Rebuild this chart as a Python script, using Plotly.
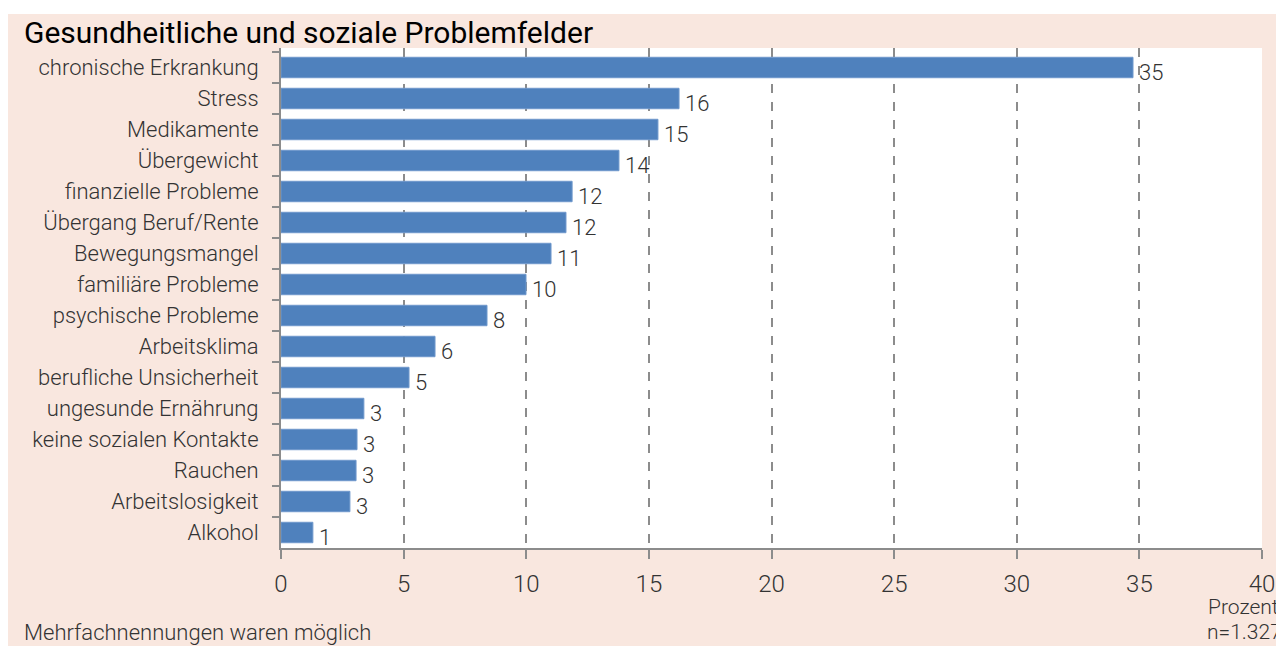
import plotly.graph_objects as go

categories = ["chronische Erkrankung", "Stress", "Medikamente", "Übergewicht",
              "finanzielle Probleme", "Übergang Beruf/Rente", "Bewegungsmangel",
              "familiäre Probleme", "psychische Probleme", "Arbeitsklima",
              "berufliche Unsicherheit", "ungesunde Ernährung",
              "keine sozialen Kontakte", "Rauchen", "Arbeitslosigkeit", "Alkohol"]
values = [34.74, 16.23, 15.37, 13.78, 11.87, 11.62, 11.01, 9.99, 8.40, 6.28,
          5.22, 3.38, 3.10, 3.06, 2.81, 1.30]
value_labels = ["35", "16", "15", "14", "12", "12", "11", "10", "8", "6", "5",
                "3", "3", "3", "3", "1"]
x_ticks = [0, 5, 10, 15, 20, 25, 30, 35, 40]

FONT = "Roboto, sans-serif"
PINK = "#f9e7df"
BLUE = "#4f81bd"
GRAY = "#8c8c8c"
TXT = "#333333"

OFF = 8  # page body margin
W, H = 1284, 646
L, R, T, B = 281 - OFF, 30, 48 - OFF, 106
PW, PH = W - L - R, H - T - B

def px(x):  # screen px -> paper
    return (x - OFF - L) / PW

def py(y):
    return (H - B - (y - OFF)) / PH

fig = go.Figure()
fig.add_trace(go.Bar(
    x=values, y=categories, orientation="h",
    marker=dict(color=BLUE, line=dict(color="#6f98cc", width=1)),
    hoverinfo="skip",
))

annotations = []
for c, v, t in zip(categories, values, value_labels):
    annotations.append(dict(x=v, y=c, xref="x", yref="y", text=t,
                            showarrow=False, xanchor="left", yanchor="middle",
                            xshift=4, yshift=-5,
                            font=dict(family=FONT, size=22, color=TXT, weight=300)))

annotations += [
    dict(x=px(22), y=py(33), xref="paper", yref="paper",
         text="Gesundheitliche und soziale Problemfelder", showarrow=False,
         xanchor="left", yanchor="middle",
         font=dict(family=FONT, size=30, color="#000000")),
    dict(x=px(1281), y=py(607), xref="paper", yref="paper", text="Prozent",
         showarrow=False, xanchor="right", yanchor="middle",
         font=dict(family=FONT, size=21, color=TXT, weight=300)),
    dict(x=px(1284), y=py(632), xref="paper", yref="paper", text="n=1.327",
         showarrow=False, xanchor="right", yanchor="middle",
         font=dict(family=FONT, size=21, color=TXT, weight=300)),
    dict(x=px(22), y=py(632), xref="paper", yref="paper",
         text="Mehrfachnennungen waren möglich", showarrow=False,
         xanchor="left", yanchor="middle",
         font=dict(family=FONT, size=22, color=TXT, weight=300)),
]

shapes = [
    dict(type="rect", xref="paper", yref="paper", x0=px(0), x1=px(W + 20),
         y0=py(14), y1=py(0), fillcolor="white", line=dict(width=0), layer="below"),
]

fig.update_layout(
    width=W, height=H,
    margin=dict(l=L, r=R, t=T, b=B, pad=0),
    paper_bgcolor=PINK, plot_bgcolor="white",
    showlegend=False, bargap=0.34,
    annotations=annotations, shapes=shapes,
    font=dict(family=FONT, color=TXT),
    xaxis=dict(range=[0, 40], tickvals=x_ticks, ticktext=[str(v) for v in x_ticks],
               showgrid=True, gridcolor=GRAY, griddash="dash", gridwidth=1.5,
               zeroline=False, showline=True, linecolor=GRAY, linewidth=2,
               ticks="outside", ticklen=9, tickcolor=GRAY, tickwidth=1.5,
               ticklabelstandoff=4,
               tickfont=dict(family=FONT, size=24, color=TXT, weight=300),
               fixedrange=True),
    yaxis=dict(type="category", autorange="reversed", tickson="boundaries",
               showgrid=False, showline=True, linecolor=GRAY, linewidth=2,
               ticks="outside", ticklen=7, tickcolor=GRAY, tickwidth=1.5,
               ticklabelstandoff=16,
               tickfont=dict(family=FONT, size=22, color=TXT, weight=300),
               fixedrange=True),
)

fig.write_html("out.html")
